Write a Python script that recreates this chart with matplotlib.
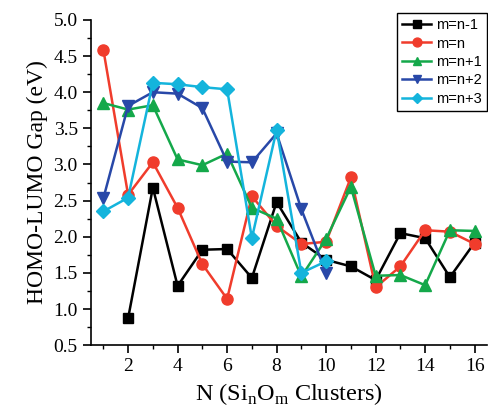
import numpy as np
import matplotlib
matplotlib.use("Agg")
import matplotlib.pyplot as plt
from matplotlib.ticker import MultipleLocator

# HOMO-LUMO gaps of SinOm clusters
n_nm1 = [2, 3, 4, 5, 6, 7, 8, 9, 10, 11, 12, 13, 14, 15, 16]
gap_nm1 = [0.87, 2.68, 1.32, 1.82, 1.83, 1.43, 2.48, 1.92, 1.68, 1.59, 1.40, 2.05, 1.98, 1.44, 1.92]

n_n = list(range(1, 17))
gap_n = [4.59, 2.58, 3.03, 2.40, 1.62, 1.14, 2.56, 2.15, 1.90, 1.93, 2.82, 1.30, 1.59, 2.09, 2.07, 1.90]

n_np1 = list(range(1, 17))
gap_np1 = [3.85, 3.76, 3.82, 3.07, 2.99, 3.15, 2.40, 2.25, 1.45, 1.97, 2.69, 1.46, 1.47, 1.33, 2.09, 2.08]

n_np2 = list(range(1, 11))
gap_np2 = [2.53, 3.81, 4.00, 3.98, 3.78, 3.04, 3.03, 3.43, 2.38, 1.50]

n_np3 = list(range(1, 11))
gap_np3 = [2.35, 2.54, 4.13, 4.11, 4.07, 4.04, 1.98, 3.48, 1.50, 1.66]

labels = ['m=n-1', 'm=n', 'm=n+1', 'm=n+2', 'm=n+3']

plt.rcParams['font.family'] = 'Liberation Serif'

fig = plt.figure(figsize=(4.89, 4.07), dpi=100)
ax = fig.add_axes([0.186, 0.152, 0.81, 0.799])

ax.plot(n_nm1, gap_nm1, '-s', color='black', lw=1.8, ms=7, label=labels[0])
ax.plot(n_n, gap_n, '-o', color='#f03c2c', lw=1.8, ms=8, label=labels[1])
ax.plot(n_np1, gap_np1, '-^', color='#14a84a', lw=1.8, ms=8, label=labels[2])
ax.plot(n_np2, gap_np2, '-v', color='#2848a8', lw=1.8, ms=8, label=labels[3])
ax.plot(n_np3, gap_np3, '-D', color='#14b4dc', lw=1.8, ms=7, label=labels[4])

ax.set_xlim(0.5, 16.5)
ax.set_ylim(0.5, 5.0)
ax.xaxis.set_major_locator(MultipleLocator(2))
ax.xaxis.set_minor_locator(MultipleLocator(1))
ax.yaxis.set_major_locator(MultipleLocator(0.5))
ax.yaxis.set_minor_locator(MultipleLocator(0.25))
ax.set_xticks(range(2, 17, 2))
ax.yaxis.set_major_formatter(matplotlib.ticker.FormatStrFormatter('%.1f'))
ax.tick_params(which='major', direction='out', length=6, width=1.2, labelsize=14)
ax.tick_params(which='minor', direction='out', length=3, width=1.0)
ax.spines['top'].set_visible(False)
ax.spines['right'].set_visible(False)
ax.spines['left'].set_linewidth(1.2)
ax.spines['bottom'].set_linewidth(1.2)

ax.set_ylabel('HOMO-LUMO Gap (eV)', fontsize=17)
ax.set_xlabel('N (Si$_\\mathregular{n}$O$_\\mathregular{m}$ Clusters)', fontsize=17.5)

leg = ax.legend(loc='upper right', bbox_to_anchor=(0.996, 0.968), bbox_transform=fig.transFigure,
                borderaxespad=0, prop={'family': 'Liberation Sans', 'size': 10.5},
                frameon=True, fancybox=False, edgecolor='black', handlelength=2.0,
                borderpad=0.35, labelspacing=0.3, handletextpad=0.35, framealpha=1,
                markerscale=0.8)
leg.get_frame().set_linewidth(1.0)

fig.savefig('out.png', dpi=100)
